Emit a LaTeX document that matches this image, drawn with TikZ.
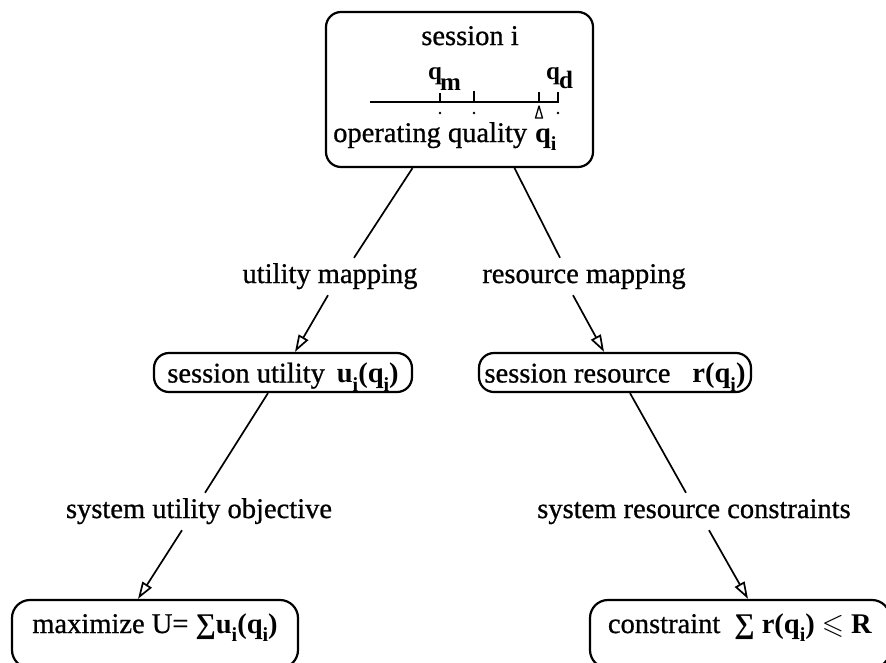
\documentclass[tikz,border=0pt]{standalone}
\usepackage{amsmath,amssymb}
\usepackage{fontspec}
\setmainfont{Liberation Serif}[UprightFeatures={FakeBold=0.8}]
\usetikzlibrary{arrows.meta,calc}

% lowered bold subscript
\newcommand{\lo}[1]{\raisebox{-0.3em}{\fontsize{20}{20}\selectfont\bfseries #1}}

\begin{document}
\begin{tikzpicture}[x=1pt,y=-1pt,
  every node/.style={font=\fontsize{28.5}{30}\selectfont},
  rbox/.style={draw, line width=2.2pt, rounded corners=15pt, inner sep=0pt,
               text height=20pt, text depth=0pt},
  lbl/.style={inner xsep=2pt, inner ysep=5pt, text height=20pt, text depth=7pt},
  conn/.style={line width=1.7pt},
  conna/.style={conn, -{Triangle[open, length=17pt, width=11pt, line width=1.7pt]}},
  qlab/.style={anchor=base west, inner sep=0pt, font=\fontsize{25}{25}\selectfont\bfseries}
]
\useasboundingbox (0,0) rectangle (886,662);
\clip (0,0) rectangle (886,662);

% session box with its quality axis
\node[rbox, minimum width=267pt, minimum height=155pt] (top) at (459.5,89.5) {};
\node[anchor=base, inner sep=0pt] (sess) at (470,45) {session i};
\draw[line width=1.6pt] (370,102) -- (559,102);
\draw[line width=1.4pt] (440,93) -- (440,102) (474,91) -- (474,102)
                        (539,92) -- (539,102) (558,92) -- (558,102);
\fill (440,113) circle (1.4) (474,113) circle (1.4) (558,113) circle (1.4);
\draw[line width=1.3pt, line join=round] (539,106) -- (542.5,118) -- (535.5,118) -- cycle;
\node[qlab] (qm) at (428,79) {q\kern-2pt\raisebox{-11pt}{m}};
\node[qlab] (qd) at (546,79) {q\kern-1pt\raisebox{-9pt}{d}};
\node[anchor=base west, inner sep=0pt] (opq) at (333,142)
  {operating quality\hspace{8pt}\textbf{q}\lo{i}};

% per-session mappings
\node[rbox, minimum width=258pt, minimum height=39pt] (midU) at (283,372.5)
  {session utility\hspace{12pt}\textbf{u}\lo{i}\textbf{(q}\lo{i}\textbf{)}};
\node[rbox, minimum width=272pt, minimum height=39pt] (midR) at (615,372.5)
  {session resource\hspace{22pt}\textbf{r(q}\lo{i}\textbf{)}};

% system level
\node[rbox, rounded corners=18pt, minimum width=286pt, minimum height=68pt, text depth=22pt]
  (botU) at (155,634) {maximize U= \textbf{∑u}\lo{i}\textbf{(q}\lo{i}\textbf{)}};
\node[rbox, rounded corners=18pt, minimum width=300pt, minimum height=68pt, text depth=22pt]
  (botR) at (740,634) {constraint\hspace{14pt}\textbf{∑ r(q}\lo{i}\textbf{)} $\leqslant$ \textbf{R}};

% edge labels
\node[lbl, anchor=base] (lu)  at (330,283) {utility mapping};
\node[lbl, anchor=base] (lr)  at (584,283) {resource mapping};
\node[lbl, anchor=base] (luo) at (199,518) {system utility objective};
\node[lbl, anchor=base] (lrc) at (694,518) {system resource constraints};

% connectors
\draw[conn]  ([xshift=-47pt]top.south) -- ([xshift=24pt]lu.north);
\draw[conna] ([xshift=-2pt]lu.south)   -- ([xshift=12pt]midU.north);
\draw[conn]  ([xshift=55pt]top.south)  -- ([xshift=-24pt]lr.north);
\draw[conna] ([xshift=-11pt]lr.south)  -- ([xshift=-11pt]midR.north);
\draw[conn]  ([xshift=-15pt]midU.south) -- ([xshift=6pt]luo.north);
\draw[conna] ([xshift=-17pt]luo.south) -- ([xshift=-17pt]botU.north);
\draw[conn]  ([xshift=15pt]midR.south) -- ([xshift=-8pt]lrc.north);
\draw[conna] ([xshift=15pt]lrc.south)  -- ([xshift=8pt]botR.north);
\end{tikzpicture}
\end{document}
